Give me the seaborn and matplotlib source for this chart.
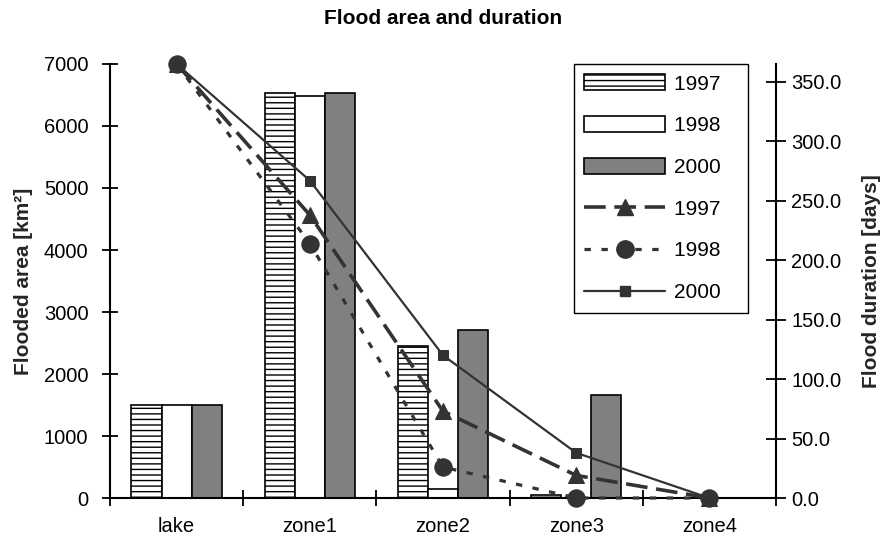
import numpy as np
import pandas as pd
import matplotlib
matplotlib.use("Agg")
import matplotlib.pyplot as plt
import seaborn as sns
from matplotlib.patches import Patch
from matplotlib.lines import Line2D

# ---- data ----
categories = ["lake", "zone1", "zone2", "zone3", "zone4"]
years = ["1997", "1998", "2000"]
area_1997 = [1500, 6540, 2450, 50, 0]
area_1998 = [1500, 6490, 140, 0, 0]
area_2000 = [1500, 6540, 2710, 1660, 0]
dur_1997 = [365, 238, 73, 19, 0]
dur_1998 = [365, 214, 26, 0, 0]
dur_2000 = [365, 267, 120, 38, 0]
left_ticks = [0, 1000, 2000, 3000, 4000, 5000, 6000, 7000]
right_ticks = [0, 50, 100, 150, 200, 250, 300, 350]

sns.set_theme(style="white")
plt.rcParams["font.family"] = ["Liberation Sans", "DejaVu Sans"]
plt.rcParams["hatch.linewidth"] = 1.0
plt.rcParams["hatch.color"] = "black"

LC = "#333333"
bar_colors = {"1997": "white", "1998": "white", "2000": "#808080"}

fig = plt.figure(figsize=(8.81, 5.37), dpi=100)
ax = fig.add_axes([110 / 881, 1 - 498 / 537, 666 / 881, 434 / 537])

df = pd.DataFrame({
    "zone": categories * 3,
    "year": np.repeat(years, len(categories)),
    "area": area_1997 + area_1998 + area_2000,
})
sns.barplot(data=df, x="zone", y="area", hue="year", order=categories,
            hue_order=years, palette=bar_colors, width=0.68, saturation=1,
            edgecolor="black", linewidth=1.2, errorbar=None, legend=False, ax=ax)
for bar in ax.containers[0]:
    bar.set_hatch("---")

ax.set_xlim(-0.5, 4.5)
ax.set_ylim(0, 7000)
ax.set_yticks(left_ticks)
ax.set_xlabel("")
ax.set_ylabel("Flooded area [km²]", fontsize=15, fontweight="bold", labelpad=8)

ax.set_xticks(range(len(categories)))
ax.set_xticklabels(categories)
ax.set_xticks(np.arange(-0.5, len(categories), 1), minor=True)
ax.tick_params(axis="x", which="major", bottom=True, length=0, labelsize=14.5, pad=14)
ax.tick_params(axis="x", which="minor", bottom=True, direction="inout", length=11,
               width=1.3, color="black")
ax.tick_params(axis="y", left=True, direction="inout", length=11, width=1.3,
               color="black", labelsize=14.5, pad=10, labelcolor="black")
ax.tick_params(axis="x", labelcolor="black")
for s in ["top", "right"]:
    ax.spines[s].set_visible(False)
for s in ["left", "bottom"]:
    ax.spines[s].set_color("black")
    ax.spines[s].set_linewidth(1.5)

# ---- lines on secondary axis ----
ax2 = ax.twinx()
xpos = np.arange(len(categories))
line_specs = [
    (dur_1997, dict(marker="^", markersize=11, linewidth=2.6, linestyle=(0, (6, 2.4)))),
    (dur_1998, dict(marker="o", markersize=12.5, linewidth=2.3, linestyle=(0, (2, 3.3)))),
    (dur_2000, dict(marker="s", markersize=6.5, linewidth=1.6, linestyle="-")),
]
for vals, kw in line_specs:
    sns.lineplot(x=xpos, y=vals, ax=ax2, color=LC, markeredgecolor=LC,
                 markerfacecolor=LC, clip_on=False, zorder=5, **kw)

ax2.set_xlim(-0.5, 4.5)
ax2.set_ylim(0, 365)
ax2.set_yticks(right_ticks)
ax2.set_yticklabels([f"{v:.1f}" for v in right_ticks])
ax2.set_ylabel("Flood duration [days]", fontsize=15, fontweight="bold", labelpad=15)
ax2.tick_params(axis="y", right=True, direction="inout", length=14, width=1.3,
                color="black", labelsize=14.5, pad=4, labelcolor="black")
for s in ["top", "left", "bottom"]:
    ax2.spines[s].set_visible(False)
ax2.spines["right"].set_color("black")
ax2.spines["right"].set_linewidth(1.5)

# ---- legend ----
handles = [
    Patch(facecolor="white", edgecolor="black", hatch="---", linewidth=1.2, label="1997   "),
    Patch(facecolor="white", edgecolor="black", linewidth=1.2, label="1998   "),
    Patch(facecolor="#808080", edgecolor="black", linewidth=1.2, label="2000   "),
]
for (vals, kw), yr in zip(line_specs, years):
    handles.append(Line2D([], [], color=LC, markeredgecolor=LC, markerfacecolor=LC,
                          label=yr + "   ", **kw))
leg = ax2.legend(handles=handles, loc="upper right", bbox_to_anchor=(0.958, 1.0),
                 borderaxespad=0, fontsize=15, frameon=True, fancybox=False,
                 framealpha=1, edgecolor="black", handlelength=3.9, handleheight=0.8,
                 handletextpad=0.4, labelspacing=1.08, borderpad=0.5)
leg.get_frame().set_linewidth(1.0)
for t in leg.get_texts():
    t.set_color("black")

fig.text(443 / 881, 1 - 18 / 537, "Flood area and duration", ha="center", va="center",
         fontsize=15, fontweight="bold", color="black")

fig.savefig("out.png", dpi=100)
